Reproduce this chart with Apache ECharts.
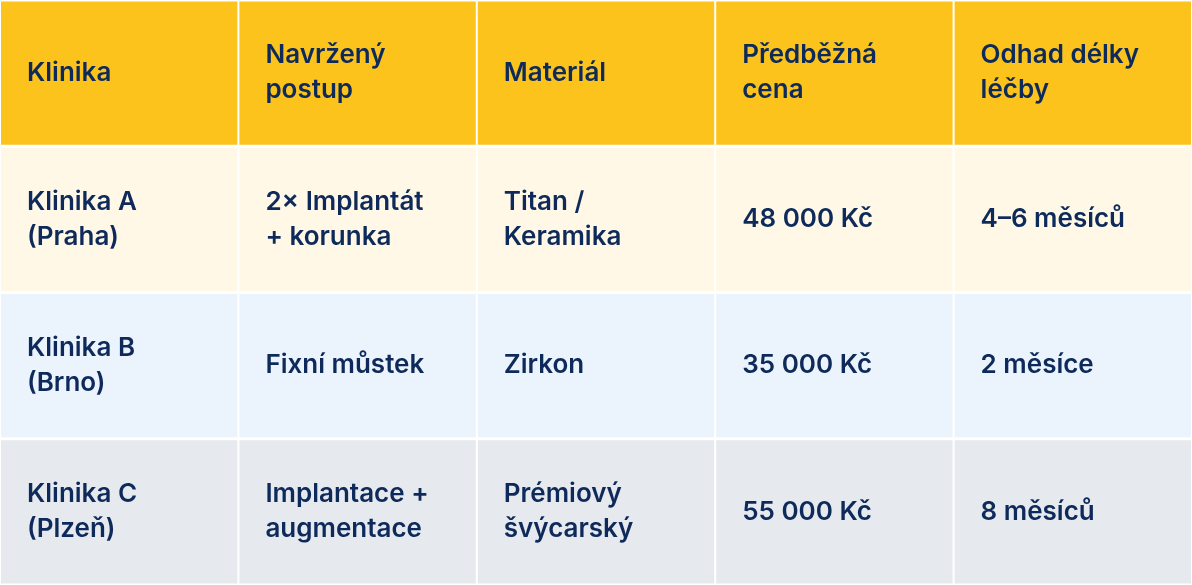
<!DOCTYPE html>
<html>
<head>
<meta charset="utf-8">
<script src="https://cdn.jsdelivr.net/npm/echarts@6/dist/echarts.min.js"></script>
<style>html,body{margin:0;padding:0;background:#fff}#chart{width:1192px;height:585px}</style>
</head>
<body>
<div id="chart"></div>
<script>
var columns = ['Klinika', 'Navržený\npostup', 'Materiál', 'Předběžná\ncena', 'Odhad délky\nléčby'];
var rowA = ['Klinika A\n(Praha)', '2× Implantát\n+ korunka', 'Titan /\nKeramika', '48 000 Kč', '4–6 měsíců'];
var rowB = ['Klinika B\n(Brno)', 'Fixní můstek', 'Zirkon', '35 000 Kč', '2 měsíce'];
var rowC = ['Klinika C\n(Plzeň)', 'Implantace +\naugmentace', 'Prémiový\nšvýcarský', '55 000 Kč', '8 měsíců'];
var rowColors = ['#FBC31C', '#FFF8E6', '#EBF3FC', '#E6E9EE'];

var rows = [columns, rowA, rowB, rowC];
var cells = [];
rows.forEach(function (r, ri) {
    r.forEach(function (t, ci) {
        cells.push([ci, ri, t]);
    });
});

var myChart = echarts.init(document.getElementById('chart'));
myChart.setOption({
    animation: false,
    grid: {left: 0, right: 0, top: 0, bottom: 0},
    xAxis: {type: 'category', data: [0, 1, 2, 3, 4], show: false},
    yAxis: {type: 'category', data: [0, 1, 2, 3], inverse: true, show: false},
    series: [{
        type: 'custom',
        data: cells,
        renderItem: function (params, api) {
            var c = api.coord([api.value(0), api.value(1)]);
            var s = api.size([1, 1]);
            var x = c[0] - s[0] / 2, y = c[1] - s[1] / 2;
            var ri = api.value(1);
            return {
                type: 'group',
                children: [{
                    type: 'rect',
                    shape: {x: x + 1, y: y + 1.5, width: s[0] - 2, height: s[1] - 3},
                    style: {fill: rowColors[ri]}
                }, {
                    type: 'text',
                    style: {
                        x: x + 27, y: c[1],
                        text: cells[params.dataIndex][2],
                        fill: '#0E2A5A',
                        font: '600 26px Inter, "Noto Sans", sans-serif',
                        lineHeight: 35,
                        align: 'left',
                        verticalAlign: 'middle'
                    }
                }]
            };
        }
    }]
});
</script>
</body>
</html>
